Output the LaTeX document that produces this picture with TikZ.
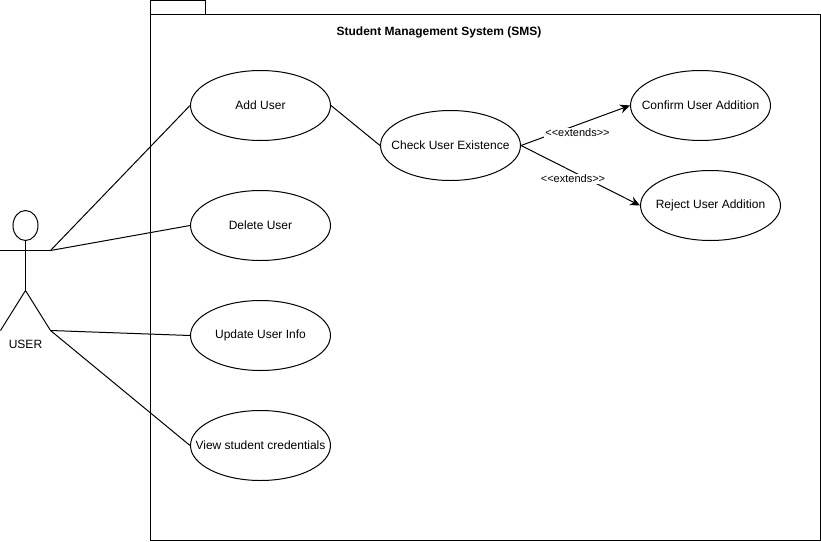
\documentclass[tikz,border=0pt]{standalone}
\usepackage{fontspec}
\setmainfont{Liberation Sans}
\usetikzlibrary{arrows.meta,shapes.geometric}
\tikzset{
	usecase/.style={draw, ellipse, minimum width=140pt, minimum height=70pt, inner sep=0pt, font=\fontsize{12}{14}\selectfont},
	stereo/.style={fill=white, inner sep=1pt, font=\fontsize{11}{13}\selectfont},
	extend/.style={-{Stealth[length=10pt,width=9pt]}}
}
\newcommand{\uclabel}[1]{\makebox[0pt]{#1}}
\begin{document}
\begin{tikzpicture}[x=1pt, y=-1pt, line width=1pt]
	\useasboundingbox (-0.5, -0.5) rectangle (820.5, 540.5);
	% package frame
	\node[draw, minimum width=670pt, minimum height=526pt, inner sep=0pt] (sms) at (485, 277) {};
	\node[draw, minimum width=55pt, minimum height=14pt, inner sep=0pt] (tab) at (177.5, 7) {};
	\node[font=\fontsize{12}{14}\selectfont\bfseries] (title) at (438.5, 32) {Student Management System (SMS)};
	% actor
	\node[draw, ellipse, minimum width=25pt, minimum height=30pt, inner sep=0pt] (head) at (25, 225) {};
	\coordinate (neck) at (25, 250);
	\coordinate (handl) at (0, 250);
	\coordinate (handr) at (50, 250);
	\coordinate (hip) at (25, 290);
	\coordinate (footl) at (0, 330);
	\coordinate (footr) at (50, 330);
	\draw (head) -- (hip);
	\draw (handl) -- (neck) -- (handr);
	\draw (footl) -- (hip) -- (footr);
	\node[font=\fontsize{12}{14}\selectfont] (user) at (25, 344) {USER};
	% use cases
	\node[usecase] (add) at (260, 105) {\uclabel{Add User}};
	\node[usecase] (del) at (260, 225) {\uclabel{Delete User}};
	\node[usecase] (upd) at (260, 335) {\uclabel{Update User Info}};
	\node[usecase] (view) at (260, 445) {\uclabel{View student credentials}};
	\node[usecase] (check) at (450, 145) {\uclabel{Check User Existence}};
	\node[usecase] (confirm) at (700, 105) {\uclabel{Confirm User Addition}};
	\node[usecase] (reject) at (710, 205) {\uclabel{Reject User Addition}};
	% connectors
	\draw (handr) -- (add.west);
	\draw (handr) -- (del.west);
	\draw (footr) -- (upd.west);
	\draw (footr) -- (view.west);
	\draw (add.east) -- (check.west);
	\draw[extend] (check.east) -- (confirm.west);
	\draw[extend] (check.east) -- (reject.west);
	\node[stereo] (ext1) at (577, 132.5) {<{}<extends>{}>};
	\node[stereo] (ext2) at (572.5, 178.5) {<{}<extends>{}>};
\end{tikzpicture}
\end{document}
